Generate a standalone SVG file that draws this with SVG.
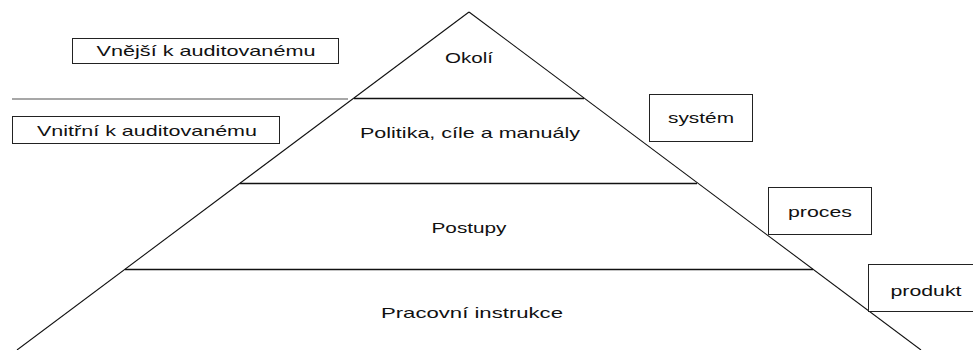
<svg xmlns="http://www.w3.org/2000/svg" width="973" height="350" viewBox="0 0 973 350">
<style>
text{font-family:"Liberation Sans",Arial,sans-serif;font-size:15px;fill:#111;text-anchor:middle}
.box{fill:#fff;stroke:#222;stroke-width:1}
.edge{stroke:#111;stroke-width:1.1;fill:none}
.level{stroke:#111;stroke-width:1.4;fill:none}
.sep{stroke:#8a8a8a;stroke-width:1.5;fill:none}
</style>
<rect width="973" height="350" fill="#fff"/>
<g id="connectors">
<path class="edge" d="M469 12 L17 350"/>
<path class="edge" d="M469 12 L921 350"/>
<path class="level" d="M354 98.5 H584"/>
<path class="level" d="M240 183.5 H697"/>
<path class="level" d="M125 269.5 H813"/>
<path class="sep" d="M12 99 H348"/>
</g>
<g id="okoli"><text x="469" y="63" textLength="48" lengthAdjust="spacingAndGlyphs">Okolí</text></g>
<g id="politika"><text x="470" y="138" textLength="220" lengthAdjust="spacingAndGlyphs">Politika, cíle a manuály</text></g>
<g id="postupy"><text x="469" y="233" textLength="75" lengthAdjust="spacingAndGlyphs">Postupy</text></g>
<g id="instrukce"><text x="472" y="318" textLength="182" lengthAdjust="spacingAndGlyphs">Pracovní instrukce</text></g>
<g id="vnejsi"><rect class="box" x="72.5" y="38.5" width="266" height="25"/><text x="206" y="56" textLength="219" lengthAdjust="spacingAndGlyphs">Vnější k auditovanému</text></g>
<g id="vnitrni"><rect class="box" x="12.5" y="116.5" width="267" height="27"/><text x="147" y="136" textLength="220" lengthAdjust="spacingAndGlyphs">Vnitřní k auditovanému</text></g>
<g id="system"><rect class="box" x="649.5" y="94.5" width="103" height="47"/><text x="701" y="123" textLength="66" lengthAdjust="spacingAndGlyphs">systém</text></g>
<g id="proces"><rect class="box" x="768.5" y="187.5" width="103" height="47"/><text x="820" y="217" textLength="64" lengthAdjust="spacingAndGlyphs">proces</text></g>
<g id="produkt"><rect class="box" x="868.5" y="264.5" width="110" height="47"/><text x="926" y="296" textLength="71" lengthAdjust="spacingAndGlyphs">produkt</text></g>
</svg>
